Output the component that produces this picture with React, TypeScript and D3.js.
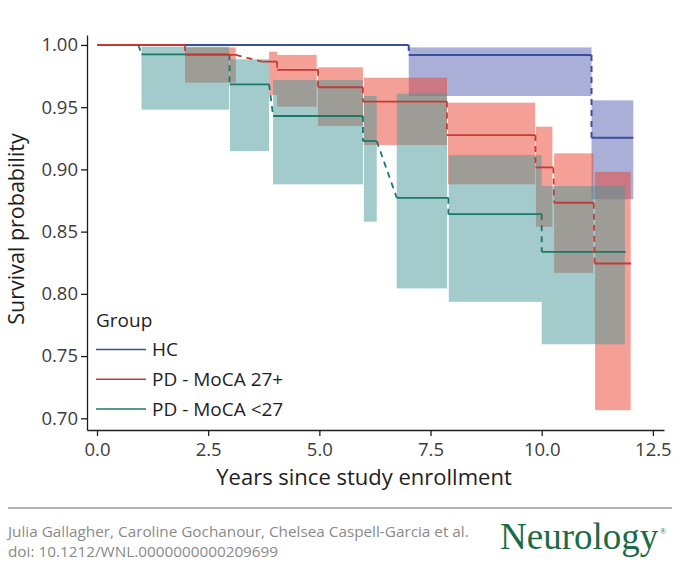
/**
 * Interval-censored survival curves by group, with step-wise confidence bands.
 */
import { useEffect, useRef } from "react";
import * as d3 from "d3";

// ── Data ──────────────────────────────────────────────────────────────────────

interface Step {
  from: number;
  to: number;
  surv: number;
}

interface Band {
  from: number;
  to: number;
  lower: number;
  upper: number;
}

const X_TICKS = [0, 2.5, 5, 7.5, 10, 12.5];
const Y_TICKS = [0.7, 0.75, 0.8, 0.85, 0.9, 0.95, 1.0];

const GROUPS = ["HC", "PD - MoCA 27+", "PD - MoCA <27"];

const hcSteps: Step[] = [
  { from: 0, to: 7.01, surv: 1.0 },
  { from: 7.01, to: 11.12, surv: 0.992 },
  { from: 11.12, to: 12.06, surv: 0.9255 },
];
const hcBands: Band[] = [
  { from: 7.01, to: 11.12, lower: 0.959, upper: 0.998 },
  { from: 11.12, to: 12.06, lower: 0.876, upper: 0.9555 },
];

const moca27Steps: Step[] = [
  { from: 0, to: 1.98, surv: 1.0 },
  { from: 1.98, to: 3.12, surv: 0.992 },
  { from: 3.72, to: 4.05, surv: 0.9866 },
  { from: 4.05, to: 4.97, surv: 0.98 },
  { from: 4.97, to: 5.98, surv: 0.966 },
  { from: 5.98, to: 7.87, surv: 0.9545 },
  { from: 7.87, to: 9.86, surv: 0.9276 },
  { from: 9.86, to: 10.26, surv: 0.9016 },
  { from: 10.28, to: 11.17, surv: 0.8732 },
  { from: 11.19, to: 12.01, surv: 0.8244 },
];
const moca27Bands: Band[] = [
  { from: 1.98, to: 3.12, lower: 0.9697, upper: 0.998 },
  { from: 3.87, to: 4.05, lower: 0.9598, upper: 0.9946 },
  { from: 4.05, to: 4.94, lower: 0.9504, upper: 0.992 },
  { from: 4.97, to: 5.98, lower: 0.935, upper: 0.982 },
  { from: 6.0, to: 7.87, lower: 0.9196, upper: 0.9737 },
  { from: 7.89, to: 9.85, lower: 0.888, upper: 0.9536 },
  { from: 9.87, to: 10.24, lower: 0.8539, upper: 0.9343 },
  { from: 10.28, to: 11.16, lower: 0.8169, upper: 0.9129 },
  { from: 11.2, to: 12.0, lower: 0.7065, upper: 0.898 },
];

const mocaLowSteps: Step[] = [
  { from: 0, to: 0.93, surv: 1.0 },
  { from: 1.0, to: 2.98, surv: 0.9925 },
  { from: 2.98, to: 3.87, surv: 0.9684 },
  { from: 3.96, to: 5.98, surv: 0.9429 },
  { from: 5.98, to: 6.29, surv: 0.9228 },
  { from: 6.74, to: 7.9, surv: 0.8772 },
  { from: 7.9, to: 10.0, surv: 0.864 },
  { from: 10.0, to: 11.89, surv: 0.8338 },
];
const mocaLowBands: Band[] = [
  { from: 1.0, to: 2.97, lower: 0.948, upper: 0.9986 },
  { from: 2.99, to: 3.87, lower: 0.9147, upper: 0.9885 },
  { from: 3.96, to: 5.98, lower: 0.888, upper: 0.9718 },
  { from: 6.0, to: 6.29, lower: 0.858, upper: 0.959 },
  { from: 6.74, to: 7.87, lower: 0.8044, upper: 0.9609 },
  { from: 7.91, to: 10.0, lower: 0.7936, upper: 0.9116 },
  { from: 10.0, to: 11.87, lower: 0.7595, upper: 0.8866 },
];

// ── Styling ───────────────────────────────────────────────────────────────────

const LINE_COLOURS = ["#3b4f9f", "#c63a34", "#1a7866"];
const LINE_WIDTHS = [2, 1.8, 1.8];
const FILL_COLOURS = ["#5560af", "#eb412d", "#479797"];
const FONT = "'Open Sans', 'Noto Sans', sans-serif";

const W = 680;
const H = 570;
const PANEL = { left: 87, right: 664, top: 35, bottom: 430 };

const x = d3.scaleLinear().domain([-0.225, 12.75]).range([PANEL.left, PANEL.right]);
const y = d3.scaleLinear().domain([0.6906, 1.008]).range([PANEL.bottom, PANEL.top]);

// ── Component ─────────────────────────────────────────────────────────────────

function Curve({ steps, colour, width }: { steps: Step[]; colour: string; width: number }) {
  return (
    <g>
      {steps.map((s, i) => (
        <line
          key={`h${i}`}
          x1={x(s.from)}
          x2={x(s.to)}
          y1={y(s.surv)}
          y2={y(s.surv)}
          stroke={colour}
          strokeWidth={width}
        />
      ))}
      {/* undetermined parts of the NPMLE drawn dashed */}
      {steps.slice(1).map((s, i) => (
        <line
          key={`c${i}`}
          x1={x(steps[i].to)}
          y1={y(steps[i].surv)}
          x2={x(s.from)}
          y2={y(s.surv)}
          stroke={colour}
          strokeWidth={width}
          strokeDasharray="6,5"
        />
      ))}
    </g>
  );
}

function Bands({ bands, fill }: { bands: Band[]; fill: string }) {
  return (
    <g>
      {bands.map((b, i) => (
        <rect
          key={i}
          x={x(b.from)}
          width={x(b.to) - x(b.from)}
          y={y(b.upper)}
          height={y(b.lower) - y(b.upper)}
          fill={fill}
          fillOpacity={0.5}
        />
      ))}
    </g>
  );
}

export default function App() {
  const xAxisRef = useRef<SVGGElement>(null);
  const yAxisRef = useRef<SVGGElement>(null);

  useEffect(() => {
    const style = (g: d3.Selection<SVGGElement, unknown, null, undefined>) => {
      g.attr("font-family", FONT).attr("font-size", 18.5);
      g.select(".domain").attr("stroke", "#1e1e1e").attr("stroke-width", 1.3);
      g.selectAll(".tick line").attr("stroke", "#1e1e1e").attr("stroke-width", 1.3);
      g.selectAll(".tick text").attr("fill", "#3c3c3c");
    };
    if (xAxisRef.current) {
      const g = d3.select(xAxisRef.current);
      g.selectAll("*").remove();
      g.call(
        d3
          .axisBottom(x)
          .tickValues(X_TICKS)
          .tickFormat(d3.format(".1f"))
          .tickSize(6)
          .tickPadding(7)
          .tickSizeOuter(0)
      );
      style(g);
    }
    if (yAxisRef.current) {
      const g = d3.select(yAxisRef.current);
      g.selectAll("*").remove();
      g.call(
        d3
          .axisLeft(y)
          .tickValues(Y_TICKS)
          .tickFormat(d3.format(".2f"))
          .tickSize(6)
          .tickPadding(3)
          .tickSizeOuter(0)
      );
      style(g);
    }
  }, []);

  const steps = [hcSteps, moca27Steps, mocaLowSteps];
  const bands = [hcBands, moca27Bands, mocaLowBands];

  return (
    <svg
      width={W}
      height={H}
      style={{ position: "absolute", left: 0, top: 0, background: "#fff" }}
      fontFamily={FONT}
    >
      {/* Confidence bands: HC, then 27+, then <27 on top */}
      {bands.map((b, i) => (
        <Bands key={i} bands={b} fill={FILL_COLOURS[i]} />
      ))}

      {/* Survival curves */}
      {[0, 2, 1].map((i) => (
        <Curve key={i} steps={steps[i]} colour={LINE_COLOURS[i]} width={LINE_WIDTHS[i]} />
      ))}

      <g ref={xAxisRef} transform={`translate(0,${PANEL.bottom})`} />
      <g ref={yAxisRef} transform={`translate(${PANEL.left},0)`} />

      {/* Axis titles */}
      <text x={364} y={485} textAnchor="middle" fontSize={22} fill="#1e1e1e">
        Years since study enrollment
      </text>
      <text
        transform="translate(24,229) rotate(-90)"
        textAnchor="middle"
        fontSize={21.5}
        fill="#1e1e1e"
      >
        Survival probability
      </text>

      {/* Legend */}
      <g>
        <text x={96} y={327} fontSize={19} fill="#1e1e1e">
          Group
        </text>
        {GROUPS.map((name, i) => (
          <g key={name} transform={`translate(96,${349.5 + i * 29.8})`}>
            <line x1={0} x2={50} stroke={LINE_COLOURS[i]} strokeWidth={1.5} />
            <text x={56} y={6.7} fontSize={19} fill="#1e1e1e">
              {name}
            </text>
          </g>
        ))}
      </g>

      {/* Footer */}
      <line x1={8} x2={672} y1={508} y2={508} stroke="#a09a9a" strokeWidth={1.5} />
      <text x={8} y={537} fontSize={15.3} fill="#8a8a8a">
        Julia Gallagher, Caroline Gochanour, Chelsea Caspell-Garcia et al.
      </text>
      <text x={8} y={557} fontSize={15.3} fill="#8a8a8a">
        doi: 10.1212/WNL.0000000000209699
      </text>
      <text
        x={500}
        y={549}
        fontSize={37}
        fontFamily="'Liberation Serif', 'DejaVu Serif', serif"
        fill="#1b6b47"
      >
        Neurology
      </text>
      <text
        x={660}
        y={534}
        fontSize={8}
        fontFamily="'Liberation Serif', serif"
        fill="#1b6b47"
      >
        ®
      </text>
    </svg>
  );
}
